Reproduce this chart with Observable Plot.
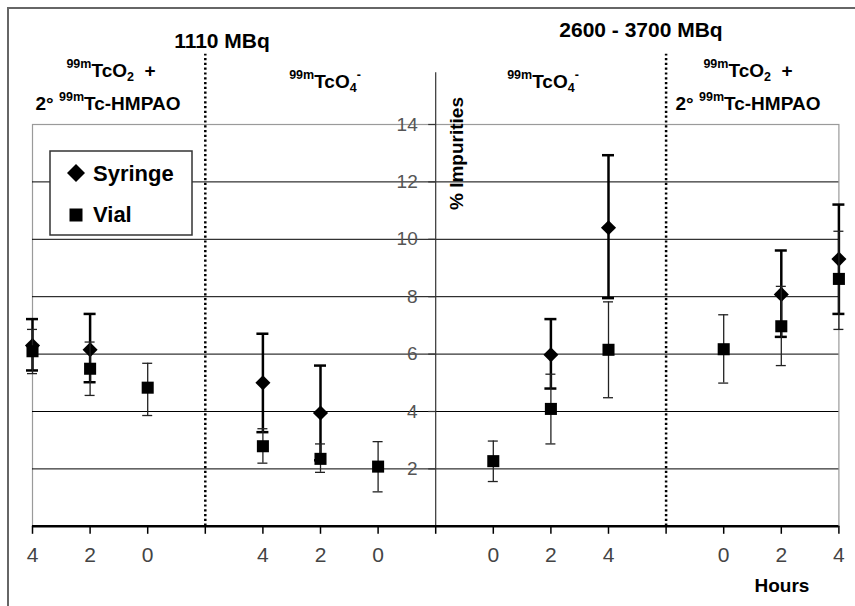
<!DOCTYPE html>
<html>
<head>
<meta charset="utf-8">
<script src="https://cdn.jsdelivr.net/npm/d3@7"></script>
<script src="https://cdn.jsdelivr.net/npm/@observablehq/plot@0.6"></script>
<style>
  html, body { margin: 0; padding: 0; background: #fff; overflow: hidden; }
  #wrap { position: relative; width: 855px; height: 606px; }
  #border { position: absolute; left: 7px; top: 7px; width: 848px; height: 599px;
            border-top: 2px solid #666; border-left: 2px solid #666; box-sizing: border-box; pointer-events: none; }
  svg text { white-space: pre; }
</style>
</head>
<body>
<div id="wrap"><div id="border"></div></div>
<script>
// ---- Data ----
const xTickPos = [0, 1, 2, 3, 4, 5, 6, 7, 8, 9, 10, 11, 12, 13, 14];
const xTickLabels = ["4", "2", "0", "", "4", "2", "0", "", "0", "2", "4", "", "0", "2", "4"];
const yTicks = [2, 4, 6, 8, 10, 12, 14];
const gridValues = [2, 4, 6, 8, 10, 12];
const dividers = [3, 11];
const centerAxis = [7];

const syringeX    = [0, 1, 4, 5, 9, 10, 13, 14];
const syringeMean = [6.3, 6.15, 5.0, 3.95, 5.98, 10.4, 8.08, 9.31];
const syringeLow  = [5.43, 5.02, 3.28, 2.3, 4.8, 7.95, 6.6, 7.4];
const syringeHigh = [7.22, 7.4, 6.71, 5.6, 7.22, 12.93, 9.61, 11.21];

const vialX    = [0, 1, 2, 4, 5, 6, 8, 9, 10, 12, 13, 14];
const vialMean = [6.1, 5.49, 4.83, 2.79, 2.35, 2.08, 2.27, 4.09, 6.15, 6.17, 6.97, 8.62];
const vialLow  = [5.32, 4.56, 3.86, 2.2, 1.88, 1.2, 1.56, 2.87, 4.48, 4.99, 5.6, 6.86];
const vialHigh = [6.86, 6.42, 5.68, 3.4, 2.87, 2.95, 2.97, 5.3, 7.82, 7.37, 8.36, 10.28];

const seriesNames = ["Syringe", "Vial"];
const doseLabels = ["1110 MBq", "2600 - 3700 MBq"];
const yLabel = "% Impurities";
const xLabel = "Hours";

// ---- Build tables ----
const syringe = syringeX.map((x, i) => ({x, mean: syringeMean[i], low: syringeLow[i], high: syringeHigh[i]}));
const vial = vialX.map((x, i) => ({x, mean: vialMean[i], low: vialLow[i], high: vialHigh[i]}));

const FONT = "'Liberation Sans', Arial, Helvetica, sans-serif";

const plot = Plot.plot({
  width: 855,
  height: 606,
  marginLeft: 32,
  marginRight: 16.6,
  marginTop: 124,
  marginBottom: 80.2,
  style: {fontFamily: FONT, background: "transparent", overflow: "visible"},
  x: {domain: [0, 14], axis: null},
  y: {domain: [0, 14], axis: null},
  marks: [
    Plot.frame({stroke: "#9a9a9a", strokeWidth: 1.2}),
    Plot.ruleY(gridValues, {stroke: "#000", strokeWidth: 1}),
    Plot.ruleX(dividers, {y1: 0, y2: 16.45, stroke: "#000", strokeWidth: 2.5, strokeDasharray: "2.2,2.6"}),
    Plot.ruleX(centerAxis, {y1: 0, y2: 15.8, stroke: "#333", strokeWidth: 1.2}),
    Plot.ruleY(yTicks, {x1: 7, x2: 7, insetLeft: -7, stroke: "#333", strokeWidth: 1.2}),
    Plot.text(yTicks, {x: 7, y: d => d, text: d => String(d), dx: -18, textAnchor: "end", fontSize: 19, fill: "#555"}),
    Plot.ruleY([0], {stroke: "#000", strokeWidth: 2.6}),
    Plot.axisX(xTickPos, {tickSize: 8, tickPadding: 13, tickFormat: i => xTickLabels[i], fontSize: 21, fill: "#444", stroke: "#000", strokeWidth: 1.5, label: null}),
    // Syringe: thick error bars
    Plot.ruleX(syringe, {x: "x", y1: "low", y2: "high", stroke: "#000", strokeWidth: 2.5}),
    Plot.ruleY(syringe, {y: "high", x1: "x", x2: "x", insetLeft: -6, insetRight: -6, stroke: "#000", strokeWidth: 2.5}),
    Plot.ruleY(syringe, {y: "low", x1: "x", x2: "x", insetLeft: -6, insetRight: -6, stroke: "#000", strokeWidth: 2.5}),
    Plot.dot(syringe, {x: "x", y: "mean", symbol: "diamond2", r: 6.8, fill: "#000", stroke: null}),
    // Vial: thin error bars
    Plot.ruleX(vial, {x: "x", y1: "low", y2: "high", stroke: "#222", strokeWidth: 1.3}),
    Plot.ruleY(vial, {y: "high", x1: "x", x2: "x", insetLeft: -5, insetRight: -5, stroke: "#222", strokeWidth: 1.3}),
    Plot.ruleY(vial, {y: "low", x1: "x", x2: "x", insetLeft: -5, insetRight: -5, stroke: "#222", strokeWidth: 1.3}),
    Plot.dot(vial, {x: "x", y: "mean", symbol: "square", r: 6.8, fill: "#000", stroke: null})
  ]
});

document.getElementById("wrap").insertBefore(plot, document.getElementById("border"));

// ---- Annotations ----
const svg = d3.select(plot);
const ann = svg.append("g").attr("font-family", FONT).attr("font-weight", "bold").attr("fill", "#000");

function chem(cx, baseline, parts, size) {
  const t = ann.append("text").attr("x", cx).attr("y", baseline).attr("text-anchor", "middle").attr("font-size", size);
  let shift = 0;
  for (const p of parts) {
    let target = 0, fs = size;
    if (p.sup) { target = -9; fs = 12.5; }
    else if (p.sub) { target = 4; fs = 12.5; }
    t.append("tspan").attr("dy", target - shift).attr("font-size", fs).text(p.t);
    shift = target;
  }
  return t;
}

ann.append("text").attr("x", 222).attr("y", 48).attr("text-anchor", "middle").attr("font-size", 21).text(doseLabels[0]);
ann.append("text").attr("x", 641).attr("y", 37).attr("text-anchor", "middle").attr("font-size", 21).text(doseLabels[1]);

const tco2 = [{t: "99m", sup: true}, {t: "TcO"}, {t: "2", sub: true}, {t: "  +"}];
const hmpao = [{t: "2° "}, {t: "99m", sup: true}, {t: "Tc-HMPAO"}];
const tco4 = [{t: "99m", sup: true}, {t: "TcO"}, {t: "4", sub: true}, {t: "-", sup: true}];

chem(111, 77, tco2, 19);
chem(108, 110, hmpao, 19);
chem(325, 88, tco4, 19);
chem(543, 88, tco4, 19);
chem(748, 77, tco2, 19);
chem(748, 110, hmpao, 19);

// y label
ann.append("text").attr("transform", "translate(463,210) rotate(-90)").attr("text-anchor", "start").attr("font-size", 19).text(yLabel);
// x label
ann.append("text").attr("x", 782).attr("y", 592).attr("text-anchor", "middle").attr("font-size", 19).text(xLabel);

// legend
const lg = svg.append("g").attr("font-family", FONT).attr("font-weight", "bold").attr("text-anchor", "start");
lg.append("rect").attr("x", 50).attr("y", 151).attr("width", 142).attr("height", 84)
  .attr("fill", "#fff").attr("stroke", "#333").attr("stroke-width", 1.5);
lg.append("path").attr("d", "M76,164L85,173L76,182L67,173Z").attr("fill", "#000");
lg.append("rect").attr("x", 69.5).attr("y", 208.5).attr("width", 13).attr("height", 13).attr("fill", "#000");
lg.append("text").attr("x", 93).attr("y", 181).attr("text-anchor", "start").attr("font-size", 22).text(seriesNames[0]);
lg.append("text").attr("x", 93).attr("y", 222).attr("text-anchor", "start").attr("font-size", 22).text(seriesNames[1]);
</script>
</body>
</html>
